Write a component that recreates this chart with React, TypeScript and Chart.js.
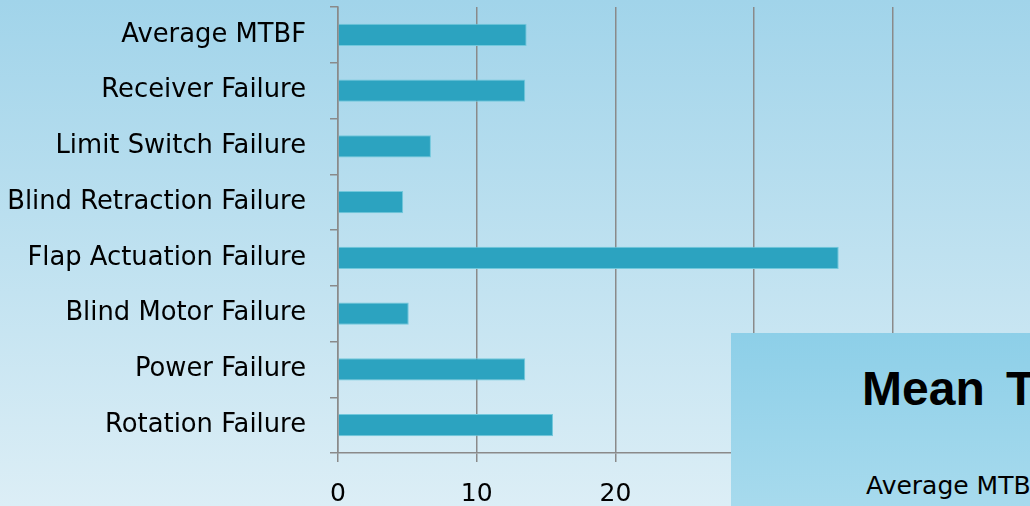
import React, { useEffect, useRef } from "react";
import { Chart, registerables } from "chart.js";

Chart.register(...registerables);

const categories = [
  "Average MTBF",
  "Receiver Failure",
  "Limit Switch Failure",
  "Blind Retraction Failure",
  "Flap Actuation Failure",
  "Blind Motor Failure",
  "Power Failure",
  "Rotation Failure",
];
const mtbfValues = [13.6, 13.5, 6.7, 4.7, 36.1, 5.1, 13.5, 15.5];
const xTickMax = 50;
const xTickStep = 10;
const overlayTitle = "Mean Time Between Failures";
const overlayLabel = "Average MTBF";

const W = 1060;
const H = 506;

export default function App() {
  const ref = useRef<HTMLCanvasElement | null>(null);

  useEffect(() => {
    if (!ref.current) return;
    const gridColor = "#8a8a8a";
    const chart = new Chart(ref.current, {
      type: "bar",
      data: {
        labels: categories,
        datasets: [
          {
            label: "MTBF",
            data: mtbfValues,
            backgroundColor: "#2ca3c0",
            borderColor: "#72c8dc",
            borderWidth: 1,
            barPercentage: 0.8,
            categoryPercentage: 0.5,
          },
        ],
      },
      options: {
        indexAxis: "y",
        animation: false,
        responsive: false,
        maintainAspectRatio: false,
        layout: { padding: { top: 7, right: W - 1031.5, left: 0, bottom: 0 } },
        plugins: { legend: { display: false }, tooltip: { enabled: false } },
        scales: {
          x: {
            min: 0,
            max: xTickMax,
            ticks: {
              stepSize: xTickStep,
              color: "#000",
              font: { family: "DejaVu Sans", size: 25 },
              padding: 17,
            },
            grid: { color: gridColor, lineWidth: 1.5, tickLength: 9 },
            border: { color: gridColor, width: 1.5 },
            afterFit: (s: any) => {
              s.height = 53;
              s.paddingLeft = 0;
              s.paddingRight = 0;
            },
          },
          y: {
            ticks: {
              color: "#000",
              font: { family: "DejaVu Sans", size: 25.8 },
              padding: 24,
            },
            grid: {
              color: gridColor,
              lineWidth: 1.5,
              tickLength: 8,
              drawOnChartArea: false,
            },
            border: { color: gridColor, width: 1.5 },
            afterFit: (s: any) => {
              s.width = 338;
              s.paddingTop = 0;
              s.paddingBottom = 0;
            },
          },
        },
      },
    });
    return () => chart.destroy();
  }, []);

  return (
    <div
      style={{
        position: "fixed",
        left: 0,
        top: 0,
        width: 1030,
        height: 506,
        overflow: "hidden",
        background: "linear-gradient(#a1d4ea, #dceef6)",
      }}
    >
      <canvas
        ref={ref}
        width={W}
        height={H}
        style={{ position: "absolute", left: 0, top: 0, width: W, height: H }}
      />
      <div
        style={{
          position: "absolute",
          left: 731,
          top: 333,
          width: 400,
          height: 200,
          background: "linear-gradient(#8dcfe8, #abdcee)",
        }}
      >
        <div
          style={{
            position: "absolute",
            left: 131,
            top: 28,
            whiteSpace: "nowrap",
            fontFamily: "Liberation Sans",
            fontWeight: "bold",
            fontSize: 48,
            wordSpacing: 8,
            color: "#000",
          }}
        >
          {overlayTitle}
        </div>
        <div
          style={{
            position: "absolute",
            left: 135,
            top: 138,
            whiteSpace: "nowrap",
            fontFamily: "DejaVu Sans",
            fontSize: 25,
            color: "#000",
          }}
        >
          {overlayLabel}
        </div>
      </div>
    </div>
  );
}
